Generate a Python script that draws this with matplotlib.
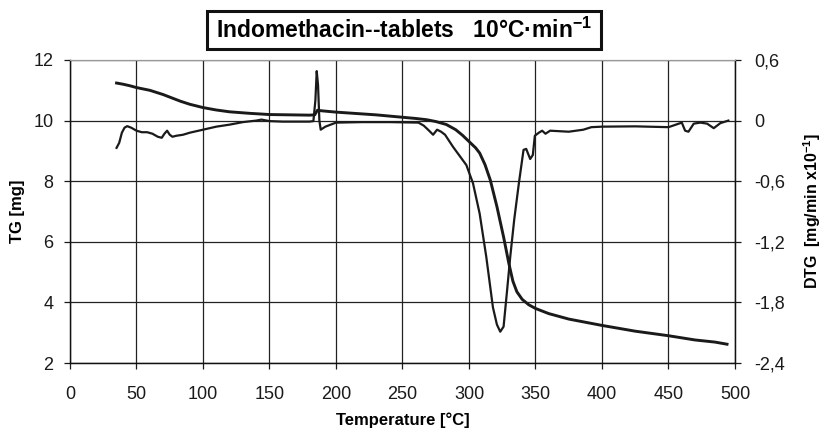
import matplotlib
matplotlib.use("Agg")
import matplotlib.pyplot as plt
from matplotlib.patches import Rectangle

##### DATA #####

tg_temp = [35, 40, 45, 50, 60, 70, 83, 90, 100, 110, 120, 135, 150, 165, 180, 184,
           186, 190, 200, 210, 220, 230, 240, 250, 260, 268, 275, 283, 290, 295,
           300, 305, 308, 312, 316, 321, 326, 330, 333, 336, 340, 345, 350, 360,
           375, 400, 425, 450, 470, 485, 494]
tg_mass = [11.24, 11.20, 11.15, 11.09, 11.00, 10.86, 10.64, 10.54, 10.43, 10.35,
           10.29, 10.24, 10.20, 10.19, 10.18, 10.19, 10.34, 10.32, 10.28, 10.25,
           10.22, 10.19, 10.15, 10.11, 10.07, 10.03, 9.97, 9.87, 9.70, 9.52, 9.31,
           9.10, 8.93, 8.55, 8.04, 7.16, 6.16, 5.28, 4.70, 4.35, 4.10, 3.92, 3.80,
           3.63, 3.45, 3.24, 3.05, 2.90, 2.76, 2.69, 2.62]

dtg_temp = [35, 37, 39, 41, 43, 46, 50, 54, 58, 62, 66, 69, 71, 73, 75, 77, 80, 85,
            90, 100, 110, 120, 130, 140, 144, 150, 160, 170, 180, 183, 184.5, 185.5,
            186.5, 187.5, 188.5, 192, 200, 220, 240, 262, 266, 270, 273, 276, 279,
            282, 288, 293, 298, 303, 308, 313, 318, 321, 323.5, 326, 328.5, 331, 334,
            337.5, 341, 343, 346, 348, 349.5, 352.5, 355, 357.5, 361, 375, 386, 392,
            400, 425, 450, 460, 462.5, 465, 469, 474, 479, 484, 489, 495]
dtg_rate = [-0.27, -0.22, -0.12, -0.07, -0.055, -0.07, -0.10, -0.115, -0.115, -0.13,
            -0.16, -0.17, -0.13, -0.10, -0.14, -0.16, -0.15, -0.14, -0.12, -0.09,
            -0.06, -0.04, -0.015, 0.0, 0.01, -0.005, -0.01, -0.01, -0.01, -0.005,
            0.2, 0.49, 0.35, 0.0, -0.09, -0.06, -0.02, -0.015, -0.015, -0.02, -0.05,
            -0.10, -0.14, -0.09, -0.11, -0.14, -0.26, -0.35, -0.44, -0.62, -0.92,
            -1.35, -1.85, -2.02, -2.09, -2.04, -1.70, -1.35, -0.98, -0.62, -0.29,
            -0.28, -0.38, -0.34, -0.15, -0.12, -0.10, -0.13, -0.10, -0.11, -0.09,
            -0.065, -0.06, -0.057, -0.065, -0.02, -0.10, -0.11, -0.03, -0.02, -0.03,
            -0.075, -0.025, 0.0]

x_ticks = [0, 50, 100, 150, 200, 250, 300, 350, 400, 450, 500]
tg_ticks = [2, 4, 6, 8, 10, 12]
dtg_ticks = [-2.4, -1.8, -1.2, -0.6, 0, 0.6]
dtg_labels = ["-2,4", "-1,8", "-1,2", "-0,6", "0", "0,6"]

##### STYLE #####

plt.rcParams["font.family"] = ["Liberation Sans", "DejaVu Sans"]
plt.rcParams["mathtext.default"] = "regular"

fig = plt.figure(figsize=(8.29, 4.34), dpi=100)
ax = fig.add_axes([70 / 829, 71 / 434, 665 / 829, 303 / 434])

ax.plot(tg_temp, tg_mass, color="#1a1a1a", lw=2.1, zorder=3)
ax.set_xlim(0, 500)
ax.set_ylim(2, 12)
ax.set_xticks(x_ticks)
ax.set_yticks(tg_ticks)
ax.grid(True, color="#222222", lw=0.9)
ax.set_axisbelow(True)

ax2 = ax.twinx()
ax2.plot(dtg_temp, dtg_rate, color="#1a1a1a", lw=1.6, zorder=3)
ax2.set_ylim(-2.4, 0.6)
ax2.set_yticks(dtg_ticks)
ax2.set_yticklabels(dtg_labels)

for a in (ax, ax2):
    for s in ("left", "right", "bottom"):
        a.spines[s].set_color("#111111")
        a.spines[s].set_linewidth(0.9)
    a.spines["top"].set_color("0.6")
    a.spines["top"].set_linestyle((0, (2, 1)))
    a.spines["top"].set_linewidth(0.8)

ax.tick_params(axis="x", direction="out", length=4.5, width=0.9, pad=12,
               labelsize=13, colors="#1a1a1a")
ax.tick_params(axis="y", direction="out", length=4, width=0.9, pad=8,
               labelsize=13, colors="#1a1a1a")
ax2.tick_params(axis="y", direction="out", length=4, width=0.9, pad=10,
                labelsize=13, colors="#1a1a1a")

# label anchors: xlabel by its top, left ylabel by its right side, right ylabel by its left side
ax.set_xlabel("Temperature [°C]", fontsize=12, fontweight="bold")
ax.xaxis.set_label_coords(0.5, -0.162)
ax.set_ylabel("TG [mg]", fontsize=12, fontweight="bold")
ax.yaxis.set_label_coords(-0.068, 0.5)
ax2.set_ylabel("DTG  [mg/min x10$^{-1}$]", fontsize=11.5, fontweight="bold")
ax2.yaxis.set_label_coords(1.100, 0.5)

# title in a framed box
fig.patches.append(Rectangle((207 / 829, 1 - 49 / 434), 394 / 829, 38 / 434,
                             transform=fig.transFigure, fill=False,
                             edgecolor="#111111", lw=2.2))
fig.text(404 / 829, 1 - 30 / 434, "Indomethacin--tablets   10°C·min$^{-1}$",
         ha="center", va="center", fontsize=16.5, fontweight="bold")

fig.savefig("out.png", dpi=100)
